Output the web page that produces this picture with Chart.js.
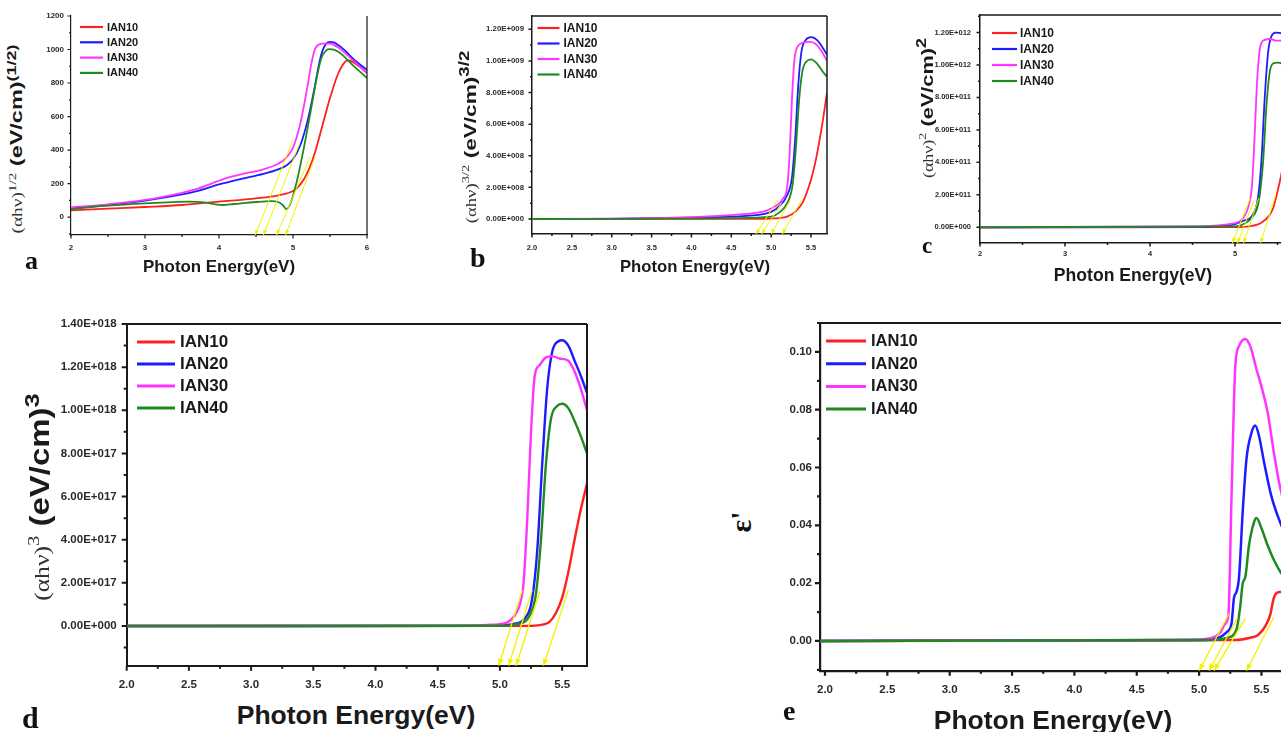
<!DOCTYPE html>
<html>
<head>
<meta charset="utf-8">
<title>Tauc plots IAN10-IAN40</title>
<script src="https://cdn.jsdelivr.net/npm/chart.js@4.4.1/dist/chart.umd.min.js"></script>
<style>
html, body { margin: 0; padding: 0; background: #fff; }
body { width: 1281px; height: 732px; overflow: hidden; position: relative; font-family: "Liberation Sans", Arial, sans-serif; }
canvas { position: absolute; }
.xt { position: absolute; transform: translate(-50%, -50%); font-weight: bold; color: #1a1a1a; white-space: nowrap; line-height: 1; }
.yt { position: absolute; white-space: nowrap; color: #1a1a1a; line-height: 1; }
.yt .s { font-family: "Liberation Serif", serif; color: #333; font-weight: normal; }
.yt .b { font-weight: bold; }
.lt { position: absolute; font-family: "Liberation Serif", serif; font-weight: bold; line-height: 1; color: #111; }
</style>
</head>
<body>
<canvas id="cA"></canvas>
<canvas id="cB"></canvas>
<canvas id="cC"></canvas>
<canvas id="cD"></canvas>
<canvas id="cE"></canvas>

<div class="xt" style="left:219px;top:266.5px;font-size:16.9px">Photon Energy(eV)</div>
<div class="xt" style="left:695px;top:267px;font-size:16.7px">Photon Energy(eV)</div>
<div class="xt" style="left:1133px;top:276px;font-size:17.6px">Photon Energy(eV)</div>
<div class="xt" style="left:356px;top:715px;font-size:26.5px">Photon Energy(eV)</div>
<div class="xt" style="left:1053px;top:720px;font-size:26.5px">Photon Energy(eV)</div>

<div class="yt" style="left:15px;top:139px;font-size:17px;transform:translate(-50%,-50%) rotate(-90deg) scale(1.38,1)"><span class="s" style="font-size:14px">(αhν)</span><sup class="s" style="font-size:11px">1/2</sup> <span class="b">(eV/cm)</span><sup class="b" style="font-size:13px">(1/2)</sup></div>
<div class="yt" style="left:468px;top:137px;font-size:17px;transform:translate(-50%,-50%) rotate(-90deg) scale(1.33,1)"><span class="s" style="font-size:14px">(αhν)</span><sup class="s" style="font-size:11px">3/2</sup> <span class="b">(eV/cm)</span><sup class="b" style="font-size:14px">3/2</sup></div>
<div class="yt" style="left:925px;top:108px;font-size:17px;transform:translate(-50%,-50%) rotate(-90deg) scale(1.28,1)"><span class="s" style="font-size:14px">(αhν)</span><sup class="s" style="font-size:11px">2</sup> <span class="b">(eV/cm)</span><sup class="b" style="font-size:14px">2</sup></div>
<div class="yt" style="left:37px;top:497px;font-size:27px;transform:translate(-50%,-50%) rotate(-90deg) scale(1.22,1)"><span class="s" style="font-size:21px">(αhν)</span><sup class="s" style="font-size:17px">3</sup> <span class="b">(eV/cm)</span><sup class="b" style="font-size:21px">3</sup></div>
<div class="yt" style="left:741px;top:522px;font-size:30px;transform:translate(-50%,-50%) rotate(-90deg)"><span class="s" style="font-weight:bold;color:#111">ε'</span></div>

<div class="lt" style="left:25px;top:248px;font-size:26px">a</div>
<div class="lt" style="left:470px;top:243.5px;font-size:28px">b</div>
<div class="lt" style="left:922px;top:233.7px;font-size:23px">c</div>
<div class="lt" style="left:22px;top:703px;font-size:30px">d</div>
<div class="lt" style="left:783px;top:696.6px;font-size:28px">e</div>

<script>
// series labels and colours, same for every panel
const seriesNames = ["IAN10", "IAN20", "IAN30", "IAN40"];
const seriesColors = ["#ff2020", "#1c1cff", "#ff35ff", "#1f8a1f"];

// ---- panel a : (ahv)^1/2 ----  [energy eV, value]
const aIAN10 = [[2,40],[2.5,50],[3,60],[3.5,72],[3.7,80],[4,92],[4.5,112],[4.8,130],[5.0,155],[5.1,195],[5.2,270],[5.3,390],[5.4,550],[5.5,710],[5.6,845],[5.7,925],[5.75,935],[5.8,928],[5.9,898],[6,860]];
const aIAN20 = [[2,52],[2.5,72],[3,98],[3.5,135],[3.7,155],[4,195],[4.3,228],[4.6,258],[4.8,285],[4.9,305],[5.0,345],[5.1,430],[5.2,580],[5.3,790],[5.35,910],[5.4,995],[5.45,1035],[5.5,1045],[5.55,1042],[5.6,1030],[5.7,995],[5.8,950],[5.9,912],[6,878]];
const aIAN30 = [[2,58],[2.5,76],[3,102],[3.5,145],[3.7,168],[3.9,200],[4.1,232],[4.3,255],[4.6,285],[4.8,318],[4.9,350],[5.0,415],[5.1,560],[5.2,790],[5.25,920],[5.3,1005],[5.35,1030],[5.4,1035],[5.5,1035],[5.6,1015],[5.7,980],[5.8,940],[5.9,900],[6,860]];
const aIAN40 = [[2,48],[2.5,68],[3,82],[3.3,88],[3.6,92],[3.8,88],[3.95,76],[4.05,72],[4.2,78],[4.5,90],[4.7,95],[4.8,90],[4.86,72],[4.91,48],[4.96,75],[5.05,210],[5.15,420],[5.25,660],[5.32,830],[5.38,945],[5.45,995],[5.5,1002],[5.6,990],[5.7,955],[5.8,910],[5.9,870],[6,830]];
const aArrows = [[5.0,460,4.49,-107],[5.09,440,4.6,-107],[5.23,360,4.78,-107],[5.3,360,4.9,-107]];

// ---- panel b : (ahv)^3/2 ----
const bIAN10 = [[2,0],[4,0.005e8],[4.8,0.01e8],[5.0,0.03e8],[5.1,0.06e8],[5.2,0.15e8],[5.3,0.45e8],[5.4,1.1e8],[5.5,2.5e8],[5.55,3.5e8],[5.6,4.8e8],[5.65,6.3e8],[5.7,8.0e8]];
const bIAN20 = [[2,0],[3,0.01e8],[4,0.08e8],[4.5,0.15e8],[4.9,0.3e8],[5.0,0.45e8],[5.1,0.8e8],[5.2,1.5e8],[5.26,2.6e8],[5.3,5e8],[5.34,8.5e8],[5.38,10.6e8],[5.43,11.3e8],[5.5,11.5e8],[5.58,11.3e8],[5.65,10.8e8],[5.7,10.4e8]];
const bIAN30 = [[2,0],[3,0.02e8],[3.5,0.05e8],[4,0.12e8],[4.5,0.25e8],[4.8,0.38e8],[4.95,0.55e8],[5.05,0.8e8],[5.15,1.3e8],[5.2,2.0e8],[5.23,4e8],[5.26,7.5e8],[5.29,10e8],[5.33,10.9e8],[5.4,11.15e8],[5.48,11.2e8],[5.55,11.1e8],[5.62,10.7e8],[5.7,10.0e8]];
const bIAN40 = [[2,0],[4,0.02e8],[4.5,0.05e8],[5.0,0.15e8],[5.1,0.4e8],[5.2,1.0e8],[5.27,2.2e8],[5.31,4.5e8],[5.35,7.5e8],[5.39,9.3e8],[5.44,9.95e8],[5.5,10.1e8],[5.58,9.8e8],[5.65,9.3e8],[5.7,9.0e8]];
const bArrows = [[5.08,1.2e8,4.81,-0.95e8],[5.13,1.0e8,4.88,-0.95e8],[5.24,1.2e8,5.0,-0.95e8],[5.38,1.2e8,5.14,-0.95e8]];

// ---- panel c : (ahv)^2 ----
const cIAN10 = [[2,0],[5.0,0.005e11],[5.1,0.02e11],[5.2,0.08e11],[5.3,0.25e11],[5.4,0.7e11],[5.45,1.2e11],[5.5,2.2e11],[5.55,3.4e11],[5.6,5e11],[5.7,8e11],[5.8,9.5e11],[6,9e11]];
const cIAN20 = [[2,0],[4.5,0.01e11],[4.9,0.1e11],[5.0,0.2e11],[5.1,0.4e11],[5.2,0.7e11],[5.27,1.8e11],[5.31,4e11],[5.35,8e11],[5.39,10.8e11],[5.43,11.8e11],[5.48,12e11],[5.55,11.95e11],[5.6,11.8e11],[5.8,11e11],[6,10.2e11]];
const cIAN30 = [[2,0],[4.5,0.05e11],[5.0,0.25e11],[5.1,0.6e11],[5.16,1.3e11],[5.2,2.6e11],[5.23,5.5e11],[5.26,9e11],[5.3,11.2e11],[5.35,11.55e11],[5.42,11.6e11],[5.48,11.5e11],[5.55,11.5e11],[5.6,11.4e11],[5.8,10.8e11],[6,10e11]];
const cIAN40 = [[2,0],[5.0,0.05e11],[5.1,0.2e11],[5.2,0.6e11],[5.28,1.6e11],[5.33,4e11],[5.37,7.5e11],[5.41,9.6e11],[5.45,10.1e11],[5.5,10.15e11],[5.55,10.1e11],[5.6,9.9e11],[5.8,9.2e11],[6,8.5e11]];
const cArrows = [[5.18,1.8e11,4.97,-0.97e11],[5.22,1.6e11,5.03,-0.97e11],[5.28,1.8e11,5.1,-0.97e11],[5.48,2e11,5.3,-0.97e11]];

// ---- panel d : (ahv)^3 ----
const dIAN10 = [[2,0],[5.2,0.005e17],[5.3,0.03e17],[5.4,0.2e17],[5.45,0.6e17],[5.5,1.3e17],[5.55,2.5e17],[5.6,4e17],[5.65,5.4e17],[5.7,6.6e17]];
const dIAN20 = [[2,0],[4.8,0.005e17],[5.0,0.02e17],[5.1,0.08e17],[5.2,0.35e17],[5.26,1.3e17],[5.3,3.5e17],[5.34,7.5e17],[5.38,11e17],[5.42,12.7e17],[5.47,13.2e17],[5.5,13.25e17],[5.55,13e17],[5.6,12.3e17],[5.65,11.6e17],[5.7,10.8e17]];
const dIAN30 = [[2,0],[4.6,0.005e17],[4.9,0.05e17],[5.05,0.15e17],[5.12,0.5e17],[5.16,1e17],[5.19,2e17],[5.22,5e17],[5.25,9e17],[5.28,11.6e17],[5.32,12.1e17],[5.37,12.45e17],[5.42,12.5e17],[5.48,12.4e17],[5.55,12.3e17],[5.6,11.8e17],[5.65,11e17],[5.7,10e17]];
const dIAN40 = [[2,0],[5.0,0.01e17],[5.15,0.1e17],[5.24,0.5e17],[5.29,1.5e17],[5.33,4e17],[5.37,7.5e17],[5.41,9.6e17],[5.46,10.2e17],[5.5,10.3e17],[5.55,10.1e17],[5.6,9.5e17],[5.65,8.8e17],[5.7,8.0e17]];
const dArrows = [[5.18,1.67e17,4.99,-1.84e17],[5.26,1.67e17,5.07,-1.84e17],[5.32,1.6e17,5.13,-1.84e17],[5.55,1.67e17,5.35,-1.84e17]];

// ---- panel e : epsilon' ----
const eIAN10 = [[1.96,0],[5.3,0.0003],[5.4,0.001],[5.47,0.002],[5.53,0.005],[5.57,0.009],[5.6,0.015],[5.63,0.0168],[5.67,0.017],[5.7,0.0168]];
const eIAN20 = [[1.96,0],[5.0,0.0003],[5.15,0.001],[5.22,0.003],[5.26,0.006],[5.28,0.015],[5.3,0.017],[5.32,0.022],[5.35,0.045],[5.38,0.063],[5.42,0.072],[5.45,0.0745],[5.48,0.071],[5.52,0.062],[5.58,0.05],[5.65,0.041],[5.7,0.036]];
const eIAN30 = [[1.96,0],[4.9,0.0003],[5.1,0.001],[5.17,0.003],[5.21,0.006],[5.235,0.009],[5.26,0.05],[5.29,0.095],[5.32,0.102],[5.37,0.1045],[5.41,0.102],[5.46,0.094],[5.5,0.088],[5.55,0.079],[5.6,0.065],[5.65,0.053],[5.7,0.045]];
const eIAN40 = [[1.96,0],[5.1,0.0003],[5.22,0.001],[5.3,0.004],[5.33,0.012],[5.35,0.02],[5.37,0.022],[5.4,0.033],[5.44,0.041],[5.46,0.0425],[5.5,0.039],[5.55,0.033],[5.6,0.028],[5.65,0.024],[5.7,0.021]];
const eArrows = [[5.24,0.0095,5.0,-0.0103],[5.31,0.0083,5.08,-0.0103],[5.37,0.0077,5.12,-0.0103],[5.6,0.0083,5.38,-0.0103]];

const FONT = '"Liberation Sans", Arial, sans-serif';

function sciLabel(v) {
    if (Math.abs(v) < 1e-30) return "0.00E+000";
    let e = Math.floor(Math.log10(Math.abs(v)));
    let m = v / Math.pow(10, e);
    if (Math.round(m * 100) / 100 >= 10) { e += 1; m = m / 10; }
    return m.toFixed(2) + "E+" + String(e).padStart(3, "0");
}
const intLabel = v => String(Math.round(v));
const oneDec = v => v.toFixed(1);
const twoDec = v => v.toFixed(2);

function toPts(arr) {
    return arr.map(p => ({ x: p[0], y: p[1] }));
}

// major ticks only at whole multiples of the step, inside min..max
function majorTicks(min, max, step) {
    const out = [];
    const k0 = Math.ceil(min / step - 1e-6);
    const k1 = Math.floor(max / step + 1e-6);
    for (let k = k0; k <= k1; k++) {
        out.push({ value: k * step });
    }
    return out;
}

// legend drawn inside the plot, top left
const legendInside = {
    id: 'legendInside',
    afterDraw(chart, args, o) {
        const ca = chart.chartArea;
        const ctx = chart.ctx;
        ctx.save();
        ctx.font = 'bold ' + o.font + 'px ' + FONT;
        ctx.textBaseline = 'middle';
        ctx.textAlign = 'left';
        for (let i = 0; i < seriesNames.length; i++) {
            const yy = ca.top + o.y + i * o.dy;
            const x0 = ca.left + o.x;
            ctx.strokeStyle = seriesColors[i];
            ctx.lineWidth = o.lw;
            ctx.beginPath();
            ctx.moveTo(x0, yy);
            ctx.lineTo(x0 + o.len, yy);
            ctx.stroke();
            ctx.fillStyle = '#1a1a1a';
            ctx.fillText(seriesNames[i], x0 + o.len + o.gap, yy + 0.5);
        }
        ctx.restore();
    }
};

// origin style box, outward major/minor ticks, arrow heads
const originFrame = {
    id: 'originFrame',
    afterDatasetsDraw(chart, args, o) {
        const ctx = chart.ctx;
        const ca = chart.chartArea;
        const xs = chart.scales.x, ys = chart.scales.y;
        ctx.save();
        ctx.strokeStyle = '#1a1a1a';
        ctx.lineWidth = o.width;
        ctx.beginPath();
        if (o.top) {
            ctx.moveTo(ca.left - o.width / 2, ca.top);
            ctx.lineTo(ca.right, ca.top);
        }
        ctx.moveTo(ca.right, ca.top);
        ctx.lineTo(ca.right, ca.bottom);
        const eachTick = (sc, major, minor, cb) => {
            const start = Math.ceil(sc.min / minor - 1e-6);
            const end = Math.floor(sc.max / minor + 1e-6);
            for (let k = start; k <= end; k++) {
                const v = k * minor;
                const r = v / major;
                cb(sc.getPixelForValue(v), Math.abs(r - Math.round(r)) < 1e-6);
            }
        };
        eachTick(xs, o.xMajor, o.xMinor, (px, maj) => {
            ctx.moveTo(px, ca.bottom);
            ctx.lineTo(px, ca.bottom + (maj ? o.major : o.minor));
        });
        eachTick(ys, o.yMajor, o.yMinor, (py, maj) => {
            ctx.moveTo(ca.left, py);
            ctx.lineTo(ca.left - (maj ? o.major : o.minor), py);
        });
        ctx.stroke();

        chart.data.datasets.forEach((ds, i) => {
            if (!ds.isArrow) return;
            const pts = chart.getDatasetMeta(i).data;
            const a = pts[0], b = pts[pts.length - 1];
            const ang = Math.atan2(b.y - a.y, b.x - a.x);
            const L = o.head, W = o.head * 0.42;
            ctx.fillStyle = ds.borderColor;
            ctx.beginPath();
            ctx.moveTo(b.x, b.y);
            ctx.lineTo(b.x - L * Math.cos(ang) + W * Math.sin(ang), b.y - L * Math.sin(ang) - W * Math.cos(ang));
            ctx.lineTo(b.x - L * Math.cos(ang) - W * Math.sin(ang), b.y - L * Math.sin(ang) + W * Math.cos(ang));
            ctx.closePath();
            ctx.fill();
        });
        ctx.restore();
    }
};

// layout of every panel (page pixels); plot = [left, top, right, bottom]
const panels = [
    { id: 'cA', left: 30, top: 4, plot: [71, 16, 367, 235], padR: 12, padB: 22,
      x: { min: 2, max: 6, major: 1, minor: 0.5, fmt: intLabel, font: 8, pad: 8 },
      y: { min: -107, max: 1200, major: 200, minor: 100, fmt: intLabel, font: 8, pad: 7 },
      lineW: 1.8, frameW: 1.2, top: false, tick: [3.5, 2],
      legend: { x: 9, y: 11, dy: 15.3, len: 23, gap: 4, font: 11, lw: 2.2 },
      series: [aIAN10, aIAN20, aIAN30, aIAN40], arrows: aArrows, arrowW: 1, head: 5 },
    { id: 'cB', left: 480, top: 4, plot: [532, 17, 827, 235], padR: 14, padB: 22,
      x: { min: 2, max: 5.7, major: 0.5, minor: 0.25, fmt: oneDec, font: 7.5, pad: 9.5 },
      y: { min: -0.95e8, max: 1.284e9, major: 2e8, minor: 1e8, fmt: sciLabel, font: 7.8, pad: 8 },
      lineW: 1.8, frameW: 1.5, top: true, tick: [3.5, 2],
      legend: { x: 5.5, y: 12, dy: 15.5, len: 22, gap: 4, font: 12, lw: 2.2 },
      series: [bIAN10, bIAN20, bIAN30, bIAN40], arrows: bArrows, arrowW: 1, head: 5 },
    { id: 'cC', left: 928, top: 4, plot: [980, 16, 1320, 244], padR: 14, padB: 24,
      x: { min: 2, max: 6, major: 1, minor: 0.5, fmt: intLabel, font: 7.5, pad: 6 },
      y: { min: -0.97e11, max: 1.308e12, major: 2e11, minor: 1e11, fmt: sciLabel, font: 7.5, pad: 9 },
      lineW: 1.8, frameW: 1.5, top: true, tick: [3.5, 2],
      legend: { x: 12, y: 18, dy: 16, len: 25, gap: 3, font: 12, lw: 2.2 },
      series: [cIAN10, cIAN20, cIAN30, cIAN40], arrows: cArrows, arrowW: 1, head: 5 },
    { id: 'cD', left: 40, top: 312, plot: [126.7, 325, 587, 666.7], padR: 16, padB: 30,
      x: { min: 2, max: 5.7, major: 0.5, minor: 0.25, fmt: oneDec, font: 11.5, pad: 12 },
      y: { min: -1.84e17, max: 1.4e18, major: 2e17, minor: 1e17, fmt: sciLabel, font: 11.5, pad: 10 },
      lineW: 2.4, frameW: 2, top: true, tick: [5, 3],
      legend: { x: 10.3, y: 18, dy: 22, len: 38, gap: 5, font: 17, lw: 3 },
      series: [dIAN10, dIAN20, dIAN30, dIAN40], arrows: dArrows, arrowW: 1.3, head: 7 },
    { id: 'cE', left: 760, top: 312, plot: [820, 324, 1286.4, 671.7], padR: 16, padB: 30,
      x: { min: 1.96, max: 5.7, major: 0.5, minor: 0.25, fmt: oneDec, font: 11.5, pad: 12 },
      y: { min: -0.0103, max: 0.11, major: 0.02, minor: 0.01, fmt: twoDec, font: 11.5, pad: 8 },
      lineW: 2.5, frameW: 2.2, top: true, tick: [5, 3],
      legend: { x: 6, y: 18, dy: 22.7, len: 40, gap: 5, font: 16.5, lw: 3 },
      series: [eIAN10, eIAN20, eIAN30, eIAN40], arrows: eArrows, arrowW: 1.3, head: 7 }
];

function makePanel(p) {
    const cv = document.getElementById(p.id);
    const [pl, pt, pr, pb] = p.plot;
    const w = Math.round(pr - p.left + p.padR);
    const h = Math.round(pb - p.top + p.padB);
    cv.width = w;
    cv.height = h;
    cv.style.left = p.left + 'px';
    cv.style.top = p.top + 'px';
    const padL = pl - p.left;
    const padT = pt - p.top;
    const padR = w - (pr - p.left);
    const padB = h - (pb - p.top);

    const datasets = p.series.map((s, i) => ({
        label: seriesNames[i],
        data: toPts(s),
        borderColor: seriesColors[i],
        borderWidth: p.lineW,
        pointRadius: 0,
        fill: false,
        cubicInterpolationMode: 'monotone',
        order: 4 - i
    }));
    p.arrows.forEach(a => {
        datasets.push({
            label: 'arrow',
            isArrow: true,
            data: [{ x: a[0], y: a[1] }, { x: a[2], y: a[3] }],
            borderColor: '#f2f200',
            borderWidth: p.arrowW,
            pointRadius: 0,
            tension: 0,
            order: 0
        });
    });

    const axis = (ax, fitFn) => ({
        type: 'linear',
        min: ax.min,
        max: ax.max,
        afterFit: fitFn,
        afterBuildTicks: s => { s.ticks = majorTicks(ax.min, ax.max, ax.major); },
        grid: { display: false, drawTicks: false, tickLength: 0 },
        border: { display: true, color: '#1a1a1a', width: p.frameW },
        ticks: {
            autoSkip: false,
            maxRotation: 0,
            padding: ax.pad,
            color: '#2a2a2a',
            font: { family: FONT, size: ax.font, weight: 'bold' },
            callback: v => ax.fmt(v)
        }
    });

    new Chart(cv, {
        type: 'line',
        data: { datasets: datasets },
        options: {
            responsive: false,
            animation: false,
            devicePixelRatio: 1,
            events: [],
            layout: { padding: { left: 0, top: padT, right: padR, bottom: 0 } },
            scales: {
                x: axis(p.x, s => { s.height = padB; }),
                y: axis(p.y, s => { s.width = padL; })
            },
            plugins: {
                legend: { display: false },
                tooltip: { enabled: false },
                legendInside: p.legend,
                originFrame: {
                    width: p.frameW, top: p.top, major: p.tick[0], minor: p.tick[1],
                    xMajor: p.x.major, xMinor: p.x.minor, yMajor: p.y.major, yMinor: p.y.minor,
                    head: p.head
                }
            }
        },
        plugins: [originFrame, legendInside]
    });
}

panels.forEach(makePanel);
</script>
</body>
</html>
